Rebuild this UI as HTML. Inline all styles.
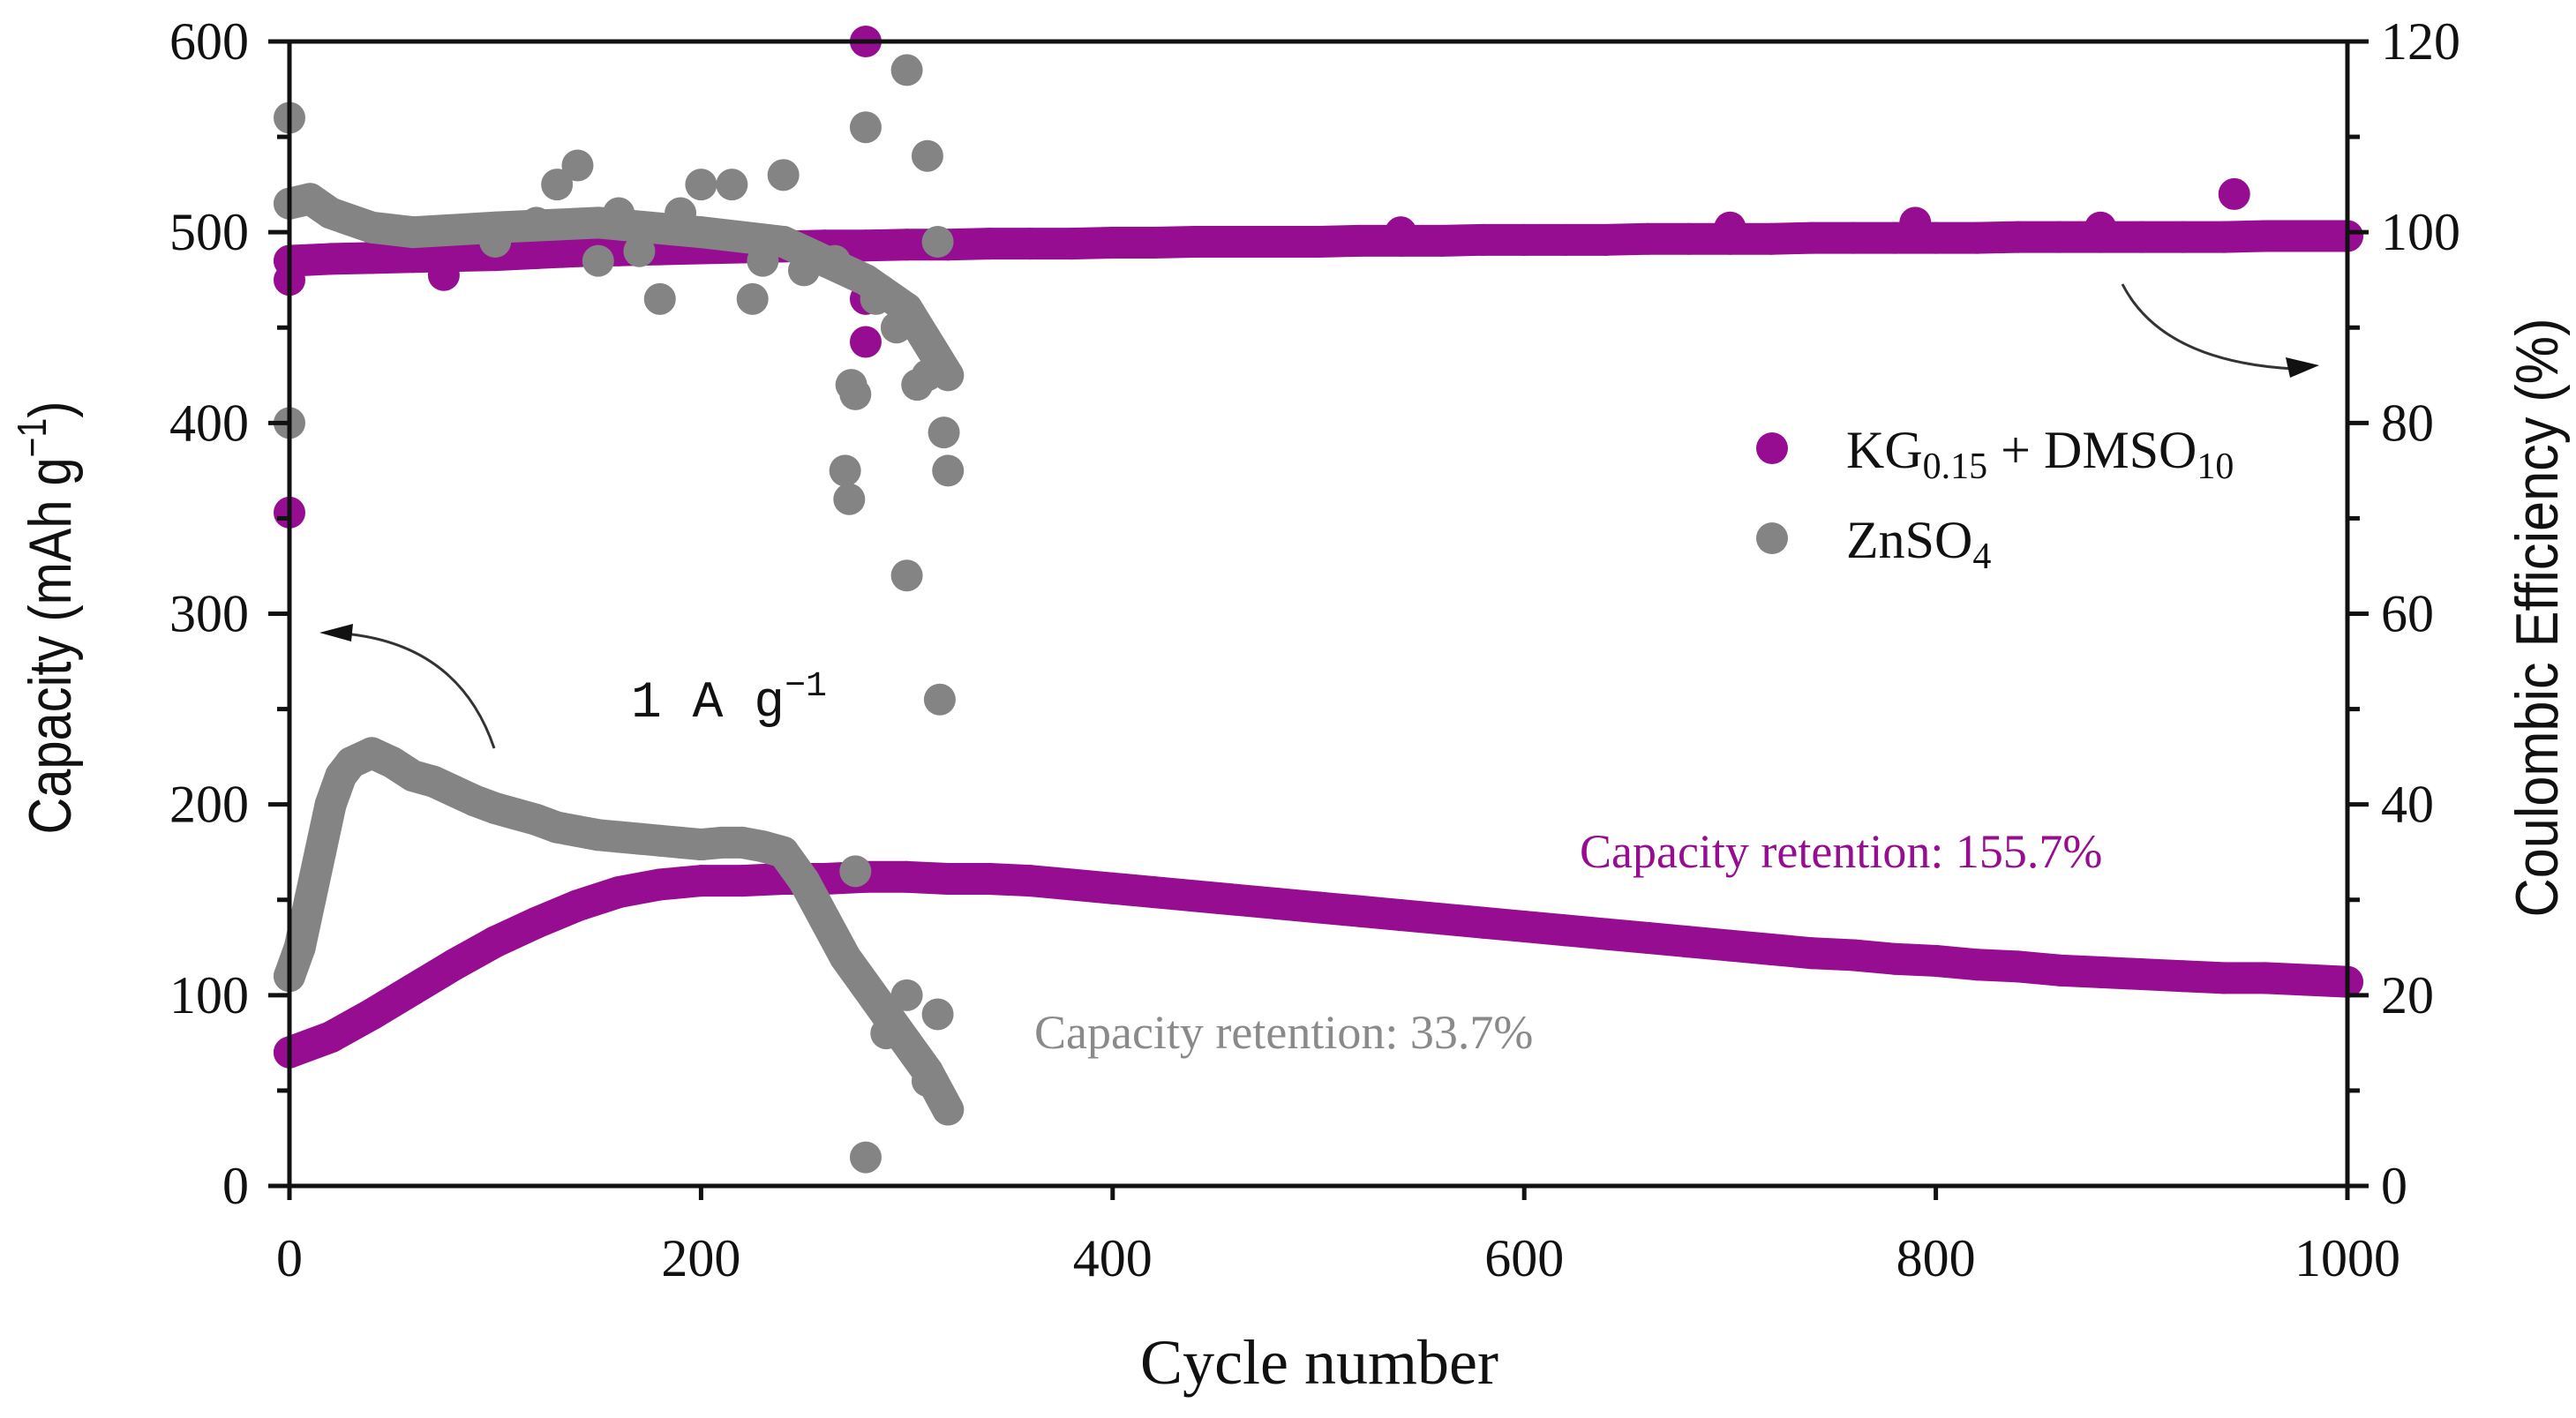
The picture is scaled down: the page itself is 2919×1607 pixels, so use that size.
<!DOCTYPE html>
<html><head><meta charset="utf-8"><style>
html,body{margin:0;padding:0;background:#fff;}
svg{display:block;font-family:"Liberation Serif",serif;}
</style></head><body>
<svg id="chart" width="2919" height="1607" viewBox="0 0 2919 1607">
<g id="series"></g>
<g id="axes"></g>
<g id="labels"></g>
</svg>
<script>
const xTicks=[0,200,400,600,800,1000];
const yLeftTicks=[0,100,200,300,400,500,600];
const yRightTicks=[0,20,40,60,80,100,120];
const purpleCycles=[0,20,40,60,80,100,120,140,160,180,200,220,240,260,280,300,320,340,360,380,400,420,440,460,480,500,520,540,560,580,600,620,640,660,680,700,720,740,760,780,800,820,840,860,880,900,920,940,960,980,1000];
const purpleCap=[70,78,90,103,116,128,138,147,154,158,160,160,161,161,162,162,161,161,160,158,156,154,152,150,148,146,144,142,140,138,136,134,132,130,128,126,124,122,121,119,118,116,115,113,112,111,110,109,109,108,107];
const purpleCE=[97,97.2,97.3,97.4,97.5,97.6,97.8,98,98.1,98.2,98.3,98.4,98.5,98.6,98.6,98.7,98.7,98.8,98.8,98.8,98.9,98.9,99,99,99,99,99.1,99.1,99.1,99.2,99.2,99.2,99.2,99.3,99.3,99.3,99.3,99.4,99.4,99.4,99.4,99.4,99.5,99.5,99.5,99.5,99.5,99.5,99.6,99.6,99.6];
const purpleOutCycles=[0,0,75,280,280,945,280,540,700,790,880];
const purpleOutCE=[95,70.6,95.5,88.5,93,104,120,100,100.5,101,100.5];
const grayCycles=[0,5,10,15,20,25,30,40,50,60,70,80,90,100,110,120,130,140,150,160,170,180,190,200,210,220,230,240,250,260,270,280,290,300,310,320];
const grayCap=[110,125,150,175,200,215,222,227,222,215,212,207,202,198,195,192,188,186,184,183,182,181,180,179,180,180,178,175,160,140,120,105,90,75,60,40];
const grayCECycles=[0,10,20,40,60,100,150,200,240,260,280,300,320];
const grayCE=[103,103.5,102,100.5,100,100.5,101,100,99,97,95,92,85];
const grayOutCapCycles=[275,280,300,315,290,310];
const grayOutCap=[165,15,100,90,80,55];
const grayOutCECycles=[0,0,140,130,180,200,215,240,225,270,272,275,280,285,300,310,315,300,316,320,318,305,310,295,273,160,250,120,170,190,230,265,100,150];
const grayOutCE=[112,80,107,105,93,105,105,106,93,75,72,83,111,93,117,108,99,64,51,75,79,84,85,90,84,102,96,101,98,102,97,97,99,97];

const X0=328,X1=2660,Y0=1344,Y1=47;
const xs=c=>X0+c*(X1-X0)/1000;
const yL=v=>Y0-v*(Y0-Y1)/600;
const yR=v=>yL(v*5);
const NS="http://www.w3.org/2000/svg";
function mk(tag,attrs,parent){const e=document.createElementNS(NS,tag);for(const k in attrs)e.setAttribute(k,attrs[k]);parent.appendChild(e);return e;}
const S=document.getElementById('series'),A=document.getElementById('axes'),L=document.getElementById('labels');
const PUR="#960d92",GRY="#848484",R=18;

function line(cs,vs,yf,color,name){
  const pts=cs.map((c,i)=>xs(c)+","+yf(vs[i])).join(" ");
  const p=mk('polyline',{points:pts,fill:"none",stroke:color,"stroke-width":2*R,"stroke-linecap":"round","stroke-linejoin":"round"},S);
  
  
  cs.forEach((c,i)=>{const d=mk('circle',{cx:xs(c),cy:yf(vs[i]),r:R,fill:color},S);
    
    });
}
function pts(cs,vs,yf,color,name){
  cs.forEach((c,i)=>{const d=mk('circle',{cx:xs(c),cy:yf(vs[i]),r:R,fill:color},S);
    
    });
}
line(purpleCycles,purpleCE,yR,PUR,'kg-dmso-ce-series');
pts(purpleOutCycles,purpleOutCE,yR,PUR,'kg-dmso-ce-outlier');
line(grayCECycles,grayCE,yR,GRY,'znso4-ce-series');
pts(grayOutCECycles,grayOutCE,yR,GRY,'znso4-ce-outlier');
line(purpleCycles,purpleCap,yL,PUR,'kg-dmso-capacity-series');
line(grayCycles,grayCap,yL,GRY,'znso4-capacity-series');
pts(grayOutCapCycles,grayOutCap,yL,GRY,'znso4-capacity-outlier');

const f=mk('rect',{x:X0,y:Y1,width:X1-X0,height:Y0-Y1,fill:"none",stroke:"#111","stroke-width":5},A);


function txt(s,x,y,size,anchor,name,extra){const t=mk('text',Object.assign({x:x,y:y,"font-size":size,"text-anchor":anchor,fill:"#111"},extra||{}),L);t.innerHTML=s;
  
  return t;}
xTicks.forEach(v=>{const x=xs(v);mk('line',{x1:x,y1:Y0,x2:x,y2:Y0+16,stroke:"#111","stroke-width":5},A);
  txt(String(v),x,Y0+102,60,"middle","x-tick-label");});
for(let v=0;v<=600;v+=50){const y=yL(v);const maj=v%100===0;
  mk('line',{x1:X0-(maj?24:14),y1:y,x2:X0,y2:y,stroke:"#111","stroke-width":5},A);
  mk('line',{x1:X1,y1:y,x2:X1+(maj?24:14),y2:y,stroke:"#111","stroke-width":5},A);}
yLeftTicks.forEach(v=>txt(String(v),282,yL(v)+20,60,"end","y-left-tick-label"));
yRightTicks.forEach(v=>txt(String(v),2698,yR(v)+20,60,"start","y-right-tick-label"));
txt("Cycle number",1495,1568,72,"middle","x-axis-title");
txt('Capacity (mAh g<tspan dy="-28" font-size="46">−1</tspan><tspan dy="28">)</tspan>',0,0,68,"middle","y-left-axis-title",{transform:"translate(80,700) rotate(-90) scale(0.85,1)","font-family":"Liberation Sans Narrow, Liberation Sans, sans-serif"});
txt("Coulombic Efficiency (%)",0,0,68,"middle","y-right-axis-title",{transform:"translate(2898,700) rotate(-90) scale(0.9,1)","font-family":"Liberation Sans Narrow, Liberation Sans, sans-serif"});
txt('1 A g<tspan dy="-24" font-size="40">−1</tspan>',715,812,58,"start","current-density-label",{"font-family":"Liberation Mono, monospace"});
txt("Capacity retention: 155.7%",1790,983,54,"start","kg-retention-label",{fill:PUR});
txt("Capacity retention: 33.7%",1172,1188,54,"start","znso4-retention-label",{fill:"#8a8a8a"});
let c1=mk('circle',{cx:2008,cy:508,r:R,fill:PUR},L);
let c2=mk('circle',{cx:2008,cy:610,r:R,fill:GRY},L);
txt('KG<tspan font-size="42" dy="12">0.15</tspan><tspan dy="-12"> + DMSO</tspan><tspan font-size="42" dy="12">10</tspan>',2092,530,60,"start","legend-kg-label");
txt('ZnSO<tspan font-size="42" dy="12">4</tspan>',2092,632,60,"start","legend-znso4-label");
let a1=mk('path',{d:"M560,848 Q520,730 390,718",fill:"none",stroke:"#333","stroke-width":3},L);
mk('polygon',{points:"362,717 400,707 398,727",fill:"#111"},L);
let a2=mk('path',{d:"M2405,322 Q2450,410 2600,418",fill:"none",stroke:"#333","stroke-width":3},L);
mk('polygon',{points:"2628,414 2590,405 2595,428",fill:"#111"},L);
</script>
</body></html>
